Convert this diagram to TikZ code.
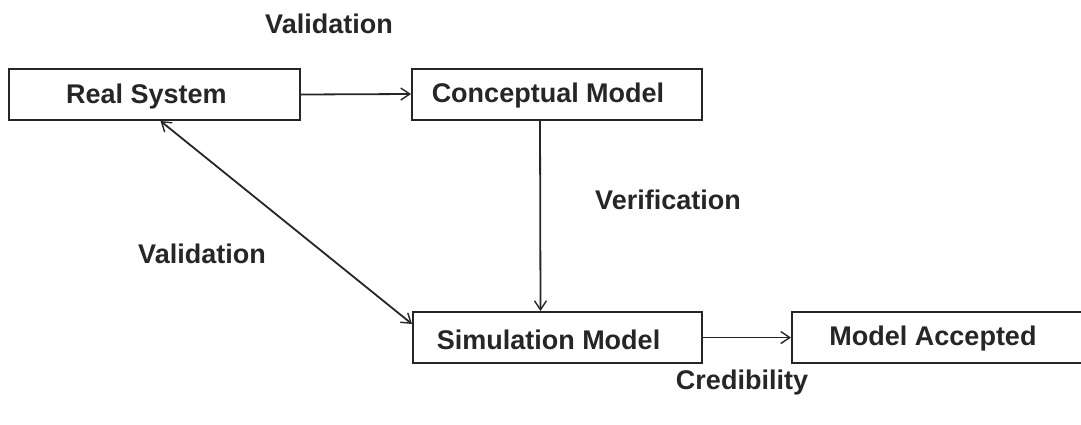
\documentclass[tikz,border=0pt]{standalone}
\usepackage{fontspec}
\setmainfont{Liberation Sans}
\usetikzlibrary{arrows.meta}
\begin{document}
\begin{tikzpicture}[x=1pt,y=-1pt,
  box/.style={draw=black!85, line width=2pt, rectangle, minimum height=51pt, inner sep=0pt},
  lbl/.style={font=\fontsize{27}{31}\selectfont\bfseries, text=black!85, inner sep=0pt},
  arr/.style={line width=1.8pt, draw=black!85, -{Straight Barb[length=9pt,width=12pt,line width=1.4pt]}},
  darr/.style={line width=1.8pt, draw=black!85,
    {Straight Barb[length=9pt,width=12pt,line width=1.4pt]}-{Straight Barb[length=9pt,width=12pt,line width=1.4pt]}}]
\useasboundingbox (0,0) rectangle (1081,424);

% process boxes
\node[box, minimum width=291pt] (rs)  at (154.5,94.5)  {};
\node[box, minimum width=290pt] (cm)  at (557,94)      {};
\node[box, minimum width=289pt] (sim) at (557.5,337.5) {};
\node[box, minimum width=300pt] (ma)  at (942,337.5)   {};

% box titles, set a little left of centre
\node[lbl] (rst)  at ([xshift=-8pt,yshift=-2pt]rs.center)  {Real System};
\node[lbl] (cmt)  at ([xshift=-9pt,yshift=-2pt]cm.center)  {Conceptual Model};
\node[lbl] (simt) at ([xshift=-9pt,yshift=-2pt]sim.center) {Simulation Model};
\node[lbl] (mat)  at ([xshift=-9pt,yshift=-1pt]ma.center)  {Model Accepted};

% edge labels
\node[lbl] (vtop)  at (329,24)  {Validation};
\node[lbl] (verif) at (668,200) {Verification};
\node[lbl] (vleft) at (202,254) {Validation};
\node[lbl] (cred)  at (742,383) {Credibility};

% connectors
\draw[arr] (rs.east) -- (cm.west);
\draw[arr] ([xshift=-17pt]cm.south) -- ([xshift=-17pt]sim.north);
\draw[darr] ([xshift=6pt]rs.south) -- ([yshift=-13pt]sim.north west);
\draw[arr] (sim.east) -- (ma.west);
\end{tikzpicture}
\end{document}
